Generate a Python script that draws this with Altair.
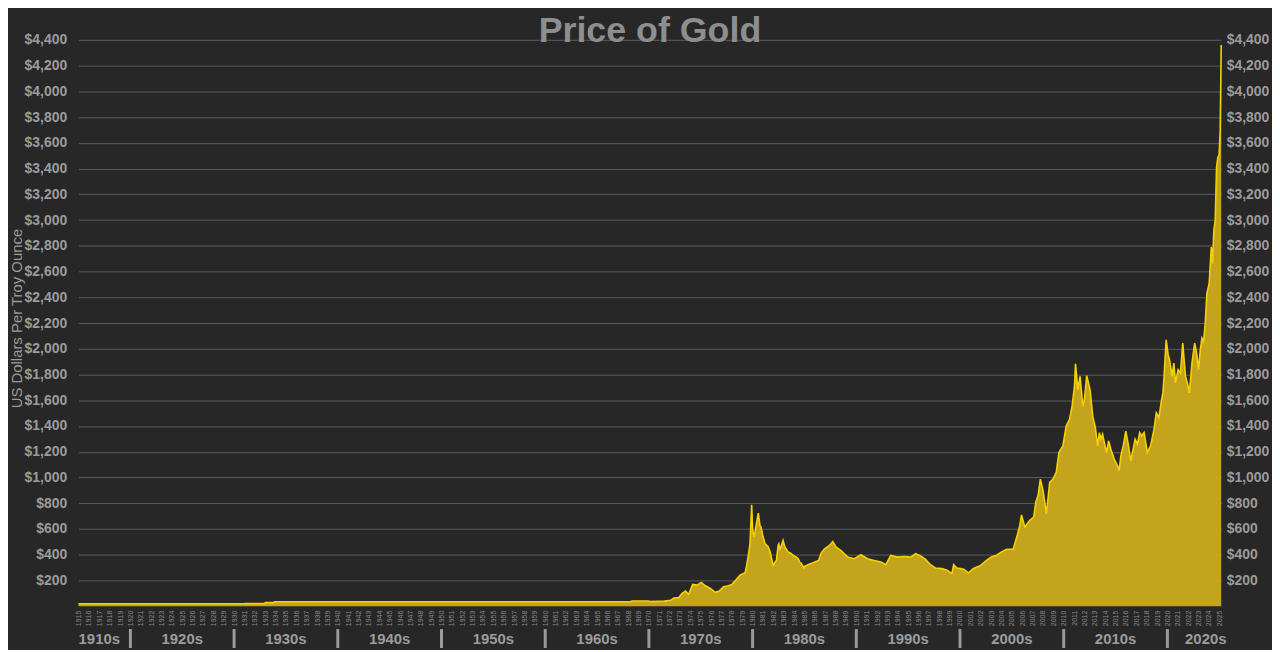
import altair as alt
import pandas as pd

TITLE = "Price of Gold"
Y_TITLE = "US Dollars Per Troy Ounce"

years = [
    1915.0, 1931.0, 1931.06, 1932.95, 1933.0, 1933.85, 1933.9, 1966.8, 1968.2, 1968.4,
    1969.86, 1970.17, 1971.5, 1972.09, 1972.41, 1972.88, 1973.21, 1973.53, 1973.84, 1974.22,
    1974.64, 1975.06, 1975.44, 1975.92, 1976.40, 1976.78, 1977.20, 1977.67, 1977.99, 1978.38,
    1978.79, 1979.11, 1979.27, 1979.43, 1979.59, 1979.75, 1979.91, 1980.00, 1980.07, 1980.16,
    1980.39, 1980.55, 1980.71, 1980.80, 1980.95, 1981.19, 1981.50, 1981.70, 1981.83, 1981.98,
    1982.30, 1982.46, 1982.53, 1982.63, 1982.94, 1983.10, 1983.42, 1983.74, 1983.90, 1984.22,
    1984.38, 1984.54, 1984.70, 1984.95, 1985.02, 1985.34, 1985.82, 1986.36, 1986.62, 1986.94,
    1987.41, 1987.73, 1988.06, 1988.53, 1989.17, 1989.81, 1990.45, 1991.08, 1991.72, 1992.37,
    1992.85, 1993.32, 1993.96, 1994.60, 1995.24, 1995.72, 1996.20, 1996.68, 1997.15, 1997.63,
    1998.27, 1998.75, 1999.22, 1999.39, 1999.70, 2000.03, 2000.35, 2000.82, 2001.30, 2001.94,
    2002.58, 2003.06, 2003.54, 2004.01, 2004.49, 2005.13, 2005.52, 2005.77, 2005.93, 2006.25,
    2006.73, 2007.11, 2007.31, 2007.53, 2007.75, 2008.01, 2008.33, 2008.65, 2008.97, 2009.28,
    2009.54, 2009.92, 2010.24, 2010.56, 2010.81, 2011.04, 2011.14, 2011.36, 2011.58, 2011.84,
    2012.00, 2012.22, 2012.54, 2012.80, 2013.05, 2013.28, 2013.44, 2013.59, 2013.75, 2013.92,
    2014.14, 2014.33, 2014.55, 2014.87, 2015.19, 2015.35, 2015.51, 2015.74, 2015.99, 2016.25,
    2016.47, 2016.70, 2016.89, 2017.11, 2017.33, 2017.52, 2017.75, 2018.07, 2018.38, 2018.71,
    2018.93, 2019.18, 2019.43, 2019.57, 2019.66, 2019.88,
    2020.07, 2020.20, 2020.46, 2020.62, 2020.78, 2021.03, 2021.26, 2021.48, 2021.74, 2021.93,
    2022.12, 2022.37, 2022.63, 2022.82, 2023.01, 2023.17, 2023.33, 2023.49, 2023.65, 2023.81,
    2024.03, 2024.23, 2024.35, 2024.48, 2024.61, 2024.74, 2024.86, 2024.99, 2025.09, 2025.19,
]
prices = [
    19, 19, 20.67, 20.67, 28, 28, 35, 35, 35, 41,
    41, 36, 40, 46, 64, 67, 100, 118, 92, 169,
    164, 185, 159, 138, 108, 118, 151, 159, 169, 203,
    241, 255, 258, 318, 396, 487, 788, 600, 564, 540,
    651, 724, 626, 618, 560, 487, 463, 420, 371, 319,
    358, 473, 485, 435, 512, 463, 422, 408, 396, 382,
    371, 344, 332, 297, 310, 323, 338, 356, 415, 446,
    472, 503, 459, 433, 382, 369, 400, 369, 356, 344,
    323, 395, 382, 387, 382, 408, 390, 364, 323, 297,
    292, 279, 254, 323, 297, 293, 287, 260, 293, 314,
    358, 384, 396, 422, 443, 443, 551, 628, 710, 615,
    667, 692, 808, 860, 988, 898, 718, 963, 988, 1040,
    1195, 1246, 1400, 1452, 1555, 1709, 1884, 1683, 1786, 1555,
    1606, 1792, 1683, 1477, 1388, 1246, 1349, 1297, 1336, 1271,
    1194, 1284, 1220, 1143, 1091, 1053, 1168, 1246, 1361, 1246,
    1130, 1220, 1297, 1259, 1349, 1323, 1349, 1194, 1246, 1374,
    1503, 1465, 1600, 1658, 1761, 2069,
    1954, 1915, 1786, 1889, 1735, 1838, 1812, 2044, 1786, 1735,
    1658, 1889, 2044, 1967, 1838, 1992, 2083, 2057, 2198, 2430,
    2507, 2790, 2662, 2919, 2996, 3408, 3485, 3511, 3691, 4360,
]

year_ticks = list(range(1915, 2026))
price_ticks = list(range(200, 4401, 200))
decades = ["1910s", "1920s", "1930s", "1940s", "1950s", "1960s",
           "1970s", "1980s", "1990s", "2000s", "2010s", "2020s"]
decade_centres = [1917, 1925, 1935, 1945, 1955, 1965,
                  1975, 1985, 1995, 2005, 2015, 2023.7]
separators = [1920, 1930, 1940, 1950, 1960, 1970, 1980, 1990, 2000, 2010, 2020]

df = pd.DataFrame({"year": years, "price": prices})
dec_df = pd.DataFrame({"year": decade_centres, "label": decades})
sep_df = pd.DataFrame({"year": separators})
title_df = pd.DataFrame({"t": [TITLE]})

W, H = 1150, 570
FONT = "Liberation Sans"
GREY = "#9c9c9c"

x_enc = alt.X(
    "year:Q",
    scale=alt.Scale(domain=[1915, 2025.2], nice=False, zero=False),
    axis=alt.Axis(values=year_ticks, format="d", labelAngle=270, labelFontSize=7,
                  labelColor="#8a8a8a", labelPadding=4, ticks=False, domain=False,
                  grid=False, labelOverlap=False, labelFlush=False, title=None),
)
y_scale = alt.Scale(domain=[0, 4400], nice=False, zero=True)

y_left = alt.Y(
    "price:Q", scale=y_scale,
    axis=alt.Axis(orient="left", values=price_ticks, format="$,.0f", grid=True,
                  gridColor="#5c5c5c", gridWidth=1, ticks=False, domain=False,
                  labelFontSize=14, labelFontWeight="bold", labelColor=GREY,
                  labelPadding=12, title=Y_TITLE, titleFontSize=15,
                  titleFontWeight="normal", titleColor=GREY, titleAngle=270,
                  titleX=-57, titleY=280, titleAlign="center",
                  titleBaseline="alphabetic"),
)
y_right = alt.Y(
    "price:Q", scale=y_scale,
    axis=alt.Axis(orient="right", values=price_ticks, format="$,.0f", grid=False,
                  ticks=False, domain=False, labelFontSize=14, labelFontWeight="bold",
                  labelColor=GREY, labelPadding=5, title=None),
)

area = alt.Chart(df).mark_area(color="#c4a41c", opacity=1).encode(x=x_enc, y=y_left)
line = alt.Chart(df).mark_line(color="#f5d100", strokeWidth=1.6).encode(x=x_enc, y=y_right)

seps = alt.Chart(sep_df).mark_rule(color="#9a9a9a", strokeWidth=3).encode(
    x=x_enc, y=alt.value(593), y2=alt.value(612))
dec_text = alt.Chart(dec_df).mark_text(
    fontSize=15, fontWeight="bold", color=GREY, baseline="middle", align="center",
    font=FONT).encode(x=x_enc, y=alt.value(603), text="label:N")
title_text = alt.Chart(title_df).mark_text(
    fontSize=36, fontWeight="bold", color="#8e8e8e", baseline="alphabetic",
    align="center", font=FONT).encode(x=alt.value(W / 2), y=alt.value(2.5), text="t:N")

chart = (
    alt.layer(area, line, seps, dec_text, title_text)
    .resolve_axis(y="independent")
    .properties(
        width=W, height=H, background="#272727",
        padding={"left": 71, "right": 51, "top": 30, "bottom": 42},
        autosize=alt.AutoSizeParams(type="none"),
    )
    .configure(font=FONT)
    .configure_view(stroke=None)
)

chart.save("out.html", embed_options={"renderer": "svg", "actions": False})
